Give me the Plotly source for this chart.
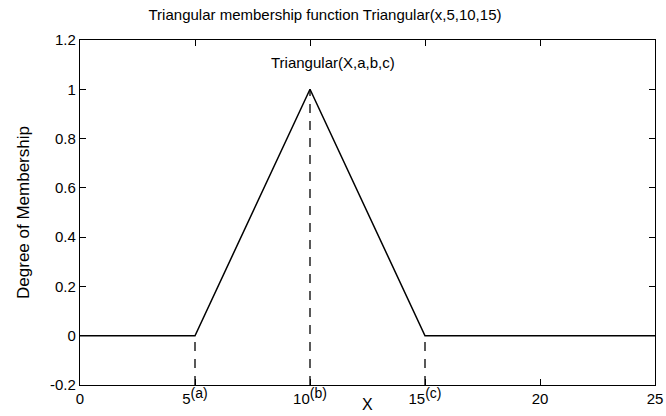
import plotly.graph_objects as go

# Triangular membership function with a=5, b=10, c=15 on [0, 25]
x_vals = [0, 5, 10, 15, 25]
mu_vals = [0, 0, 1, 0, 0]

# Parameter markers (a, b, c) and their membership values
param_x = [5, 10, 15]
param_mu = [0, 1, 0]
param_names = ["(a)", "(b)", "(c)"]

x_ticks = [0, 5, 10, 15, 20, 25]
y_ticks = [-0.2, 0, 0.2, 0.4, 0.6, 0.8, 1, 1.2]
y_ticktext = ["-0.2", "0", "0.2", "0.4", "0.6", "0.8", "1", "1.2"]

y_min, y_max = -0.2, 1.2

FONT = "Liberation Sans, Arial, sans-serif"

# tick labels, with the parameter name raised after a, b and c
x_ticktext = []
for t in x_ticks:
    label = str(t)
    if t in param_x:
        name = param_names[param_x.index(t)]
        label += "<sup><span style='font-size:14px'>" + name + "</span></sup>"
    x_ticktext.append(label)

fig = go.Figure()

# dashed guides from the bottom axis up to the curve
for px, pm in zip(param_x, param_mu):
    fig.add_trace(go.Scatter(
        x=[px, px], y=[y_min, pm], mode="lines",
        line=dict(color="black", width=1.3, dash="9px,8px"),
        hoverinfo="skip", showlegend=False,
    ))

fig.add_trace(go.Scatter(
    x=x_vals, y=mu_vals, mode="lines",
    line=dict(color="black", width=1.5),
    showlegend=False,
))

fig.add_annotation(
    x=8.2, y=1.11, xref="x", yref="y", text="Triangular(X,a,b,c)",
    xanchor="left", yanchor="middle",
    showarrow=False, font=dict(family=FONT, size=15, color="black"),
)

# x-axis title placed just under the tick labels
fig.add_annotation(
    x=0.5, y=-0.057, xref="paper", yref="paper", text="X",
    xanchor="center", yanchor="middle",
    showarrow=False, font=dict(family=FONT, size=16, color="black"),
)

axis_common = dict(
    showgrid=False, zeroline=False, showline=True, mirror="ticks",
    linecolor="black", linewidth=1.3, ticks="inside", ticklen=6,
    tickcolor="black", tickwidth=1.2, automargin=False,
    tickfont=dict(family=FONT, size=15, color="black"),
)

fig.update_layout(
    width=666, height=416,
    margin=dict(l=80, r=11, t=40, b=31),
    paper_bgcolor="white", plot_bgcolor="white",
    title=dict(
        text="Triangular membership function Triangular(x,5,10,15)",
        x=325 / 666, xanchor="center", xref="container",
        y=1 - 15 / 416, yanchor="middle", yref="container",
        font=dict(family=FONT, size=15, color="black"),
    ),
    xaxis=dict(
        range=[0, 25], tickmode="array", tickvals=x_ticks, ticktext=x_ticktext,
        ticklabelstandoff=0,
        **axis_common,
    ),
    yaxis=dict(
        range=[y_min, y_max], tickmode="array", tickvals=y_ticks, ticktext=y_ticktext,
        title=dict(text="Degree of Membership", font=dict(family=FONT, size=17, color="black"), standoff=16),
        **axis_common,
    ),
)

fig.write_html("out.html")
